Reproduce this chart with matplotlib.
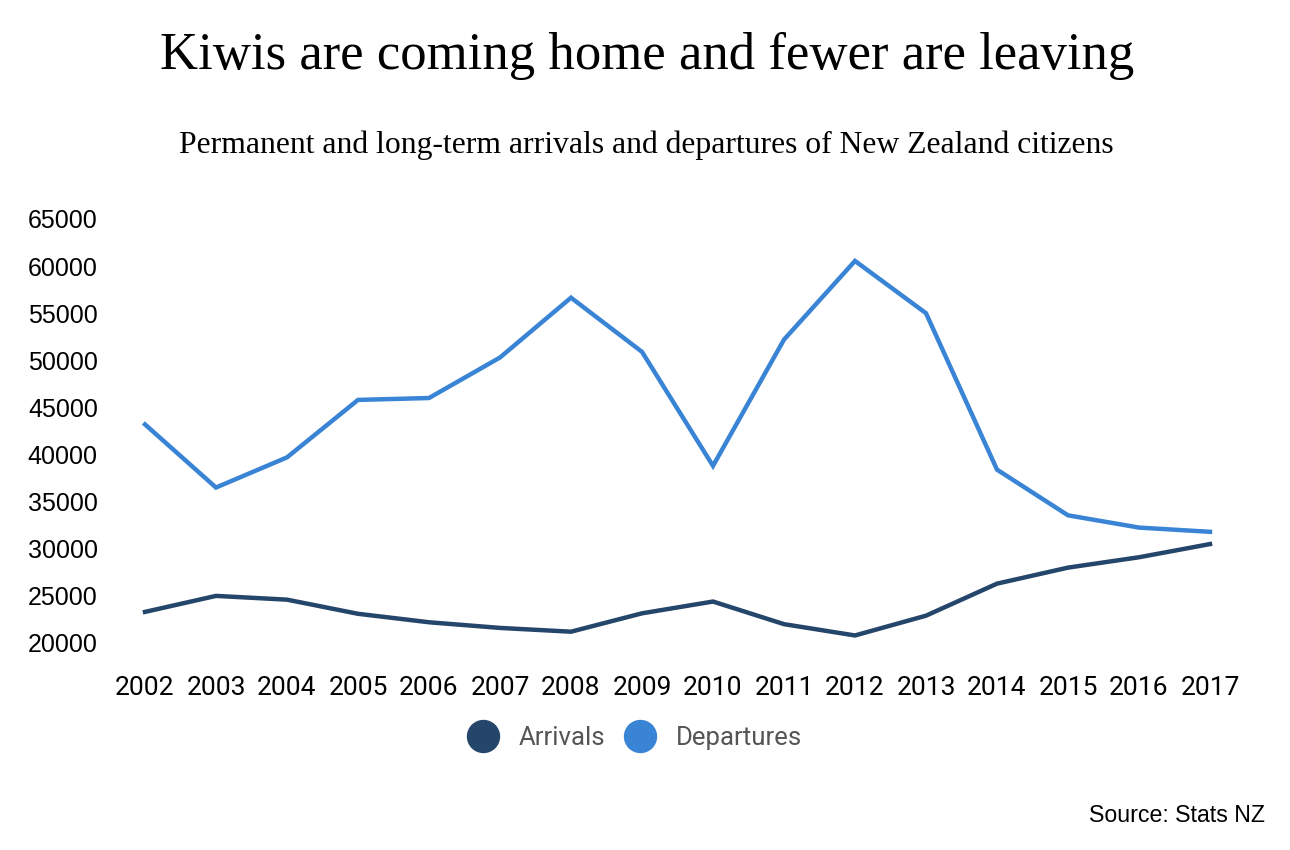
import matplotlib
matplotlib.use("Agg")
import matplotlib.pyplot as plt
from matplotlib.lines import Line2D

years = list(range(2002, 2018))
arrivals = [23300, 25000, 24600, 23100, 22200, 21600, 21200, 23150,
            24400, 22000, 20800, 22900, 26300, 28000, 29100, 30500]
departures = [43200, 36500, 39700, 45800, 46000, 50300, 56650, 50900,
              38800, 52200, 60550, 55000, 38400, 33550, 32250, 31800]
y_ticks = [20000, 25000, 30000, 35000, 40000, 45000, 50000, 55000, 60000, 65000]
series_names = ["Arrivals", "Departures"]
colors = ["#25466b", "#3a84d5"]

W, H = 1290, 850
fig = plt.figure(figsize=(W / 100, H / 100), dpi=100)
ax = fig.add_axes([145 / W, 1 - 643 / H, (1210 - 145) / W, (643 - 219) / H])

ax.plot(years, arrivals, color=colors[0], lw=3.2, clip_on=False, solid_joinstyle="miter")
ax.plot(years, departures, color=colors[1], lw=3.2, clip_on=False, solid_joinstyle="miter")

ax.set_xlim(2002, 2017)
ax.set_ylim(20000, 65000)
ax.set_xticks(years)
ax.set_xticklabels([str(y) for y in years], fontfamily="Roboto", fontsize=19)
ax.set_yticks(y_ticks)
ax.set_yticklabels([str(v) for v in y_ticks], fontfamily="Liberation Sans", fontsize=18)
ax.tick_params(axis="x", length=0, pad=24)
ax.tick_params(axis="y", length=0, pad=34)
for s in ax.spines.values():
    s.set_visible(False)

fig.text(647 / W, 1 - 56 / H, "Kiwis are coming home and fewer are leaving",
         ha="center", va="center", fontfamily="Liberation Serif", fontsize=38)
fig.text(646 / W, 1 - 145 / H,
         "Permanent and long-term arrivals and departures of New Zealand citizens",
         ha="center", va="center", fontfamily="Liberation Serif", fontsize=22.8)

handles = [Line2D([], [], marker="o", linestyle="none", markersize=23,
                  markerfacecolor=c, markeredgecolor=c) for c in colors]
leg = fig.legend(handles, series_names, loc="center", bbox_to_anchor=(630 / W, 1 - 738 / H),
                 ncol=2, frameon=False, handletextpad=0.4, columnspacing=0.35,
                 prop={"family": "Roboto", "size": 18.5})
for t in leg.get_texts():
    t.set_color("#555555")

fig.text(1265 / W, 1 - 816 / H, "Source: Stats NZ", ha="right", va="center",
         fontfamily="Liberation Sans", fontsize=16.7)

fig.savefig("out.png", dpi=100, facecolor="white")
